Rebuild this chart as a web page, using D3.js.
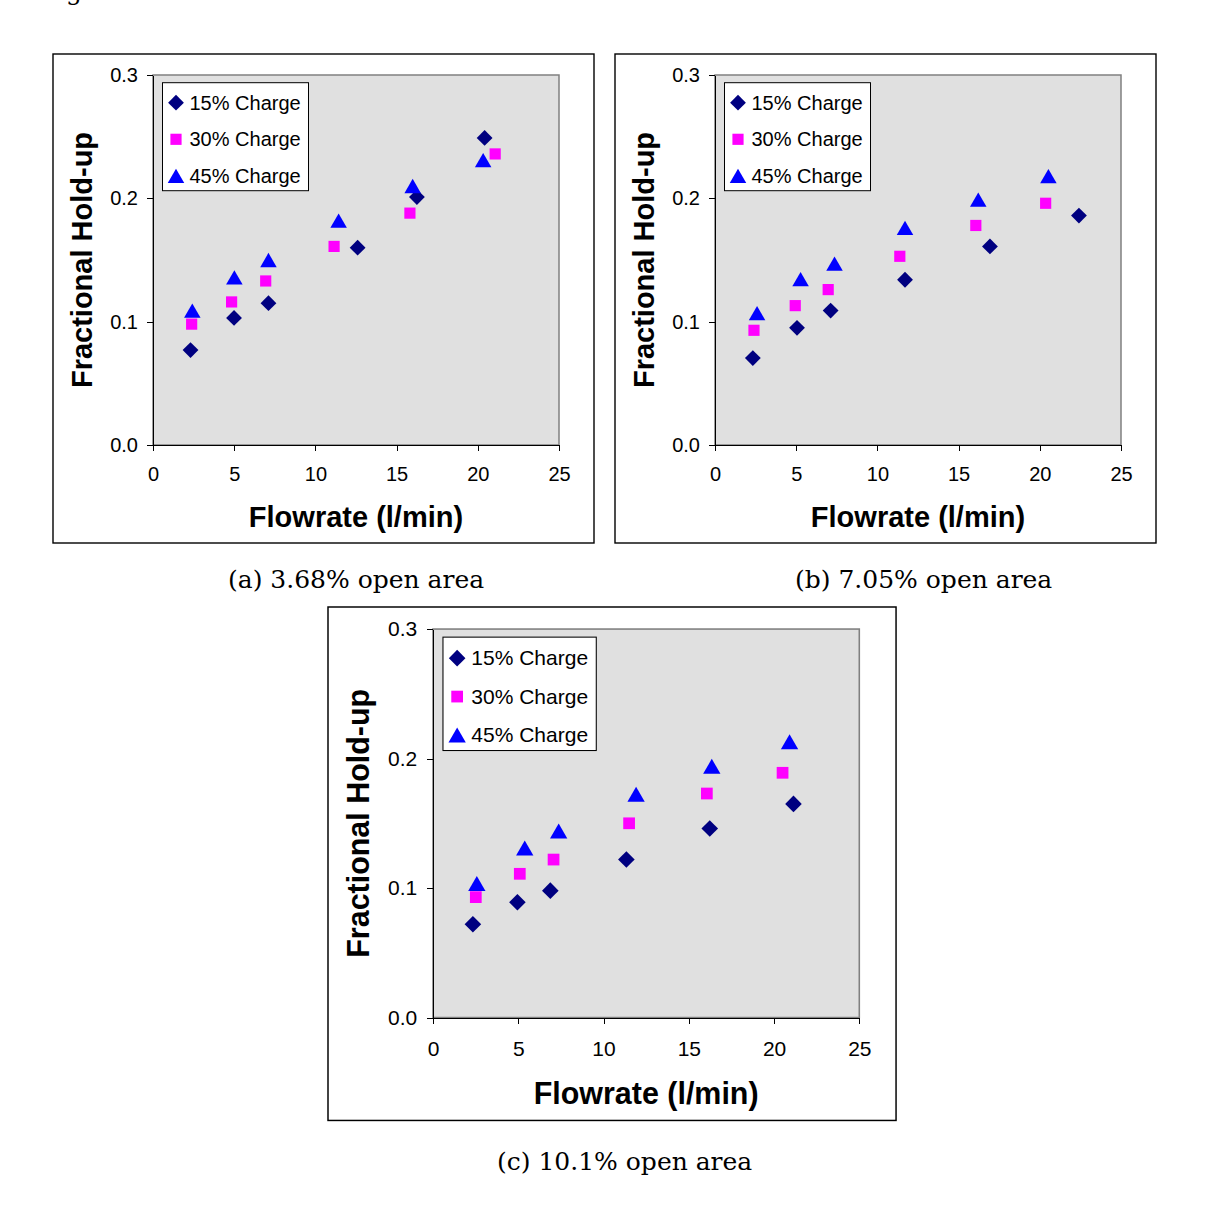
<!DOCTYPE html>
<html lang="en">
<head>
<meta charset="UTF-8">
<title>Fractional hold-up vs flowrate</title>
<script src="https://d3js.org/d3.v7.min.js"></script>
<style>
  body { margin: 0; background: #ffffff; }
  svg { display: block; }
  .tick text { font-family: "Liberation Sans", Arial, sans-serif; font-size: 20px; fill: #000; }
  .axis path, .axis line { stroke: #000; shape-rendering: crispEdges; }
  .title { font-family: "Liberation Sans", Arial, sans-serif; font-weight: bold; font-size: 29px; fill: #000; }
  .legend text { font-family: "Liberation Sans", Arial, sans-serif; font-size: 20px; fill: #000; }
  .caption { font-family: "DejaVu Serif", "Liberation Serif", serif; font-size: 25px; fill: #000; }
</style>
</head>
<body>
<svg id="fig" width="1207" height="1228"></svg>
<script>
const seriesNames = ["15% Charge", "30% Charge", "45% Charge"];
const seriesColors = ["#000080", "#ff00ff", "#0000ff"];
const xTicks = [0, 5, 10, 15, 20, 25];
const yTicks = [0, 0.1, 0.2, 0.3];
const captions = ["(a) 3.68% open area", "(b) 7.05% open area", "(c) 10.1% open area"];

// (a) 3.68% open area
const flowA15 = [2.31, 4.99, 7.11, 12.6, 16.25, 20.42];
const holdA15 = [0.077, 0.103, 0.115, 0.160, 0.201, 0.249];
const flowA30 = [2.38, 4.84, 6.94, 11.15, 15.82, 21.07];
const holdA30 = [0.098, 0.116, 0.133, 0.161, 0.188, 0.236];
const flowA45 = [2.42, 5.01, 7.11, 11.43, 15.99, 20.33];
const holdA45 = [0.109, 0.136, 0.150, 0.182, 0.210, 0.231];

// (b) 7.05% open area
const flowB15 = [2.33, 5.05, 7.12, 11.70, 16.93, 22.41];
const holdB15 = [0.0705, 0.095, 0.109, 0.134, 0.161, 0.186];
const flowB30 = [2.40, 4.94, 6.97, 11.38, 16.06, 20.36];
const holdB30 = [0.093, 0.113, 0.126, 0.153, 0.178, 0.196];
const flowB45 = [2.59, 5.27, 7.36, 11.70, 16.21, 20.53];
const holdB45 = [0.107, 0.1345, 0.147, 0.176, 0.199, 0.218];

// (c) 10.1% open area
const flowC15 = [2.34, 4.95, 6.88, 11.34, 16.23, 21.14];
const holdC15 = [0.072, 0.089, 0.098, 0.122, 0.146, 0.165];
const flowC30 = [2.51, 5.09, 7.07, 11.50, 16.06, 20.50];
const holdC30 = [0.093, 0.111, 0.122, 0.150, 0.173, 0.189];
const flowC45 = [2.57, 5.38, 7.37, 11.91, 16.35, 20.91];
const holdC45 = [0.1035, 0.131, 0.144, 0.1725, 0.194, 0.213];

const panels = [
    { x: 53, y: 54, k: 1, series: [[flowA15, holdA15], [flowA30, holdA30], [flowA45, holdA45]] },
    { x: 615, y: 54, k: 1, series: [[flowB15, holdB15], [flowB30, holdB30], [flowB45, holdB45]] },
    { x: 328, y: 607, k: 1.05, series: [[flowC15, holdC15], [flowC30, holdC30], [flowC45, holdC45]] }
];
const captionPos = [[228, 588], [795, 588], [497, 1170]];

const svg = d3.select("#fig");
svg.append("rect").attr("width", 1207).attr("height", 1228).attr("fill", "#fff");

// cut-off line of text at the very top of the page
svg.append("text").attr("class", "caption").attr("x", 66).attr("y", 0).text("gure 6.3:");

// local panel geometry (panel c is the same layout scaled up)
const frameW = 541, frameH = 489;
const margin = { left: 100, top: 21 };
const plotW = 406, plotH = 370;

const markers = [
    d3.symbol().type(d3.symbolSquare).size(125),   // diamond (rotated square)
    d3.symbol().type(d3.symbolSquare).size(125),
    d3.symbol().type(d3.symbolTriangle).size(118)
];
function markerTransform(i, px, py) {
    if (i === 0) return `translate(${px},${py}) rotate(45)`;
    if (i === 2) return `translate(${px},${py + 2.4})`;
    return `translate(${px},${py})`;
}

panels.forEach((p, pi) => {
    const g = svg.append("g").attr("transform", `translate(${p.x},${p.y}) scale(${p.k})`);

    g.append("rect")
        .attr("width", frameW).attr("height", frameH)
        .attr("fill", "#fff").attr("stroke", "#000").attr("stroke-width", 1.4);

    const plot = g.append("g").attr("transform", `translate(${margin.left},${margin.top})`);

    const x = d3.scaleLinear().domain([0, 25]).range([0, plotW]);
    const y = d3.scaleLinear().domain([0, 0.3]).range([plotH, 0]);

    plot.append("rect")
        .attr("width", plotW).attr("height", plotH)
        .attr("fill", "#e0e0e0").attr("stroke", "#808080").attr("stroke-width", 1.5);

    plot.append("g").attr("class", "axis")
        .attr("transform", `translate(0,${plotH})`)
        .call(d3.axisBottom(x).tickValues(xTicks).tickSize(6).tickPadding(16).tickSizeOuter(0));

    plot.append("g").attr("class", "axis")
        .call(d3.axisLeft(y).tickValues(yTicks).tickFormat(d3.format(".1f")).tickSize(6).tickPadding(9).tickSizeOuter(0));

    g.append("text").attr("class", "title")
        .attr("x", margin.left + plotW / 2).attr("y", 473)
        .attr("text-anchor", "middle")
        .text("Flowrate (l/min)");

    g.append("text").attr("class", "title")
        .attr("transform", `translate(39,${margin.top + plotH / 2}) rotate(-90)`)
        .attr("text-anchor", "middle")
        .text("Fractional Hold-up");

    p.series.forEach(([flow, hold], si) => {
        plot.append("g").selectAll("path")
            .data(flow.map((f, j) => [f, hold[j]]))
            .enter().append("path")
            .attr("d", markers[si]())
            .attr("transform", d => markerTransform(si, x(d[0]), y(d[1])))
            .attr("fill", seriesColors[si]);
    });

    // legend
    const leg = plot.append("g").attr("class", "legend").attr("transform", "translate(9.5,7.7)");
    leg.append("rect").attr("width", 146).attr("height", 108)
        .attr("fill", "#fff").attr("stroke", "#000").attr("stroke-width", 1);
    seriesNames.forEach((name, si) => {
        const cy = 20 + si * 36.6;
        leg.append("path").attr("d", markers[si]())
            .attr("transform", markerTransform(si, 13.5, cy))
            .attr("fill", seriesColors[si]);
        leg.append("text").attr("x", 27).attr("y", cy).attr("dy", "0.35em").text(name);
    });
});

captions.forEach((c, i) => {
    svg.append("text").attr("class", "caption")
        .attr("x", captionPos[i][0]).attr("y", captionPos[i][1])
        .text(c);
});
</script>
</body>
</html>
